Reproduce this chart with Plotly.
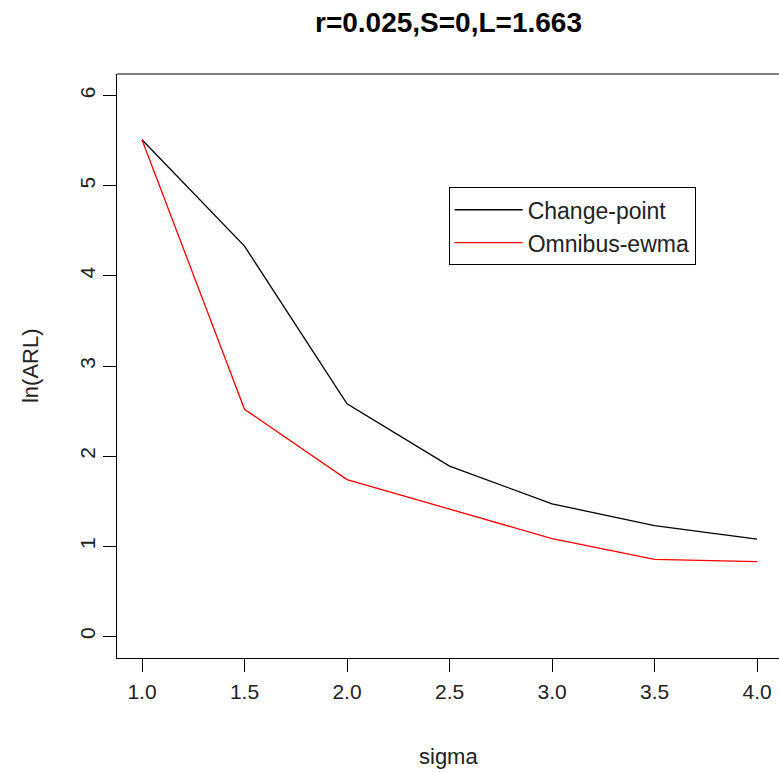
import plotly.graph_objects as go

sigma = [1.0, 1.5, 2.0, 2.5, 3.0, 3.5, 4.0]
change_point = [5.51, 4.33, 2.58, 1.89, 1.47, 1.23, 1.08]
omnibus_ewma = [5.51, 2.52, 1.74, 1.41, 1.085, 0.855, 0.83]

x_ticks = [1.0, 1.5, 2.0, 2.5, 3.0, 3.5, 4.0]
x_tick_labels = ["1.0", "1.5", "2.0", "2.5", "3.0", "3.5", "4.0"]
y_ticks = [0, 1, 2, 3, 4, 5, 6]
y_tick_labels = ["0", "1", "2", "3", "4", "5", "6"]

FONT = "Arial, Liberation Sans, sans-serif"

fig = go.Figure()
fig.add_trace(go.Scatter(x=sigma, y=change_point, mode="lines", name="Change-point",
                         line=dict(color="black", width=1.3)))
fig.add_trace(go.Scatter(x=sigma, y=omnibus_ewma, mode="lines", name="Omnibus-ewma",
                         line=dict(color="red", width=1.3)))

fig.update_layout(
    width=779, height=773,
    margin=dict(l=117, r=0, t=74, b=115),
    paper_bgcolor="white", plot_bgcolor="white",
    font=dict(family=FONT, size=22, color="black"),
    showlegend=True,
    legend=dict(x=0.501, y=0.806, xanchor="left", yanchor="top",
                bordercolor="black", borderwidth=1, bgcolor="white",
                itemwidth=68,
                font=dict(family=FONT, size=23, color="#222")),
    xaxis=dict(range=[0.878, 4.107], tickvals=x_ticks, ticktext=x_tick_labels,
               showgrid=False, zeroline=False, showline=True, linecolor="black", linewidth=1,
               ticks="outside", ticklen=13, tickcolor="black", tickwidth=1,
               ticklabelstandoff=2,
               tickfont=dict(family=FONT, size=21, color="#222")),
    yaxis=dict(range=[-0.24, 6.24], tickvals=y_ticks, ticktext=y_tick_labels,
               showgrid=False, zeroline=False, showline=True, linecolor="black", linewidth=1,
               ticks="outside", ticklen=13, tickcolor="black", tickwidth=1,
               tickangle=-90,
               tickfont=dict(family=FONT, size=21, color="#222")),
    shapes=[dict(type="line", xref="paper", yref="paper", x0=0, x1=1, y0=1, y1=1,
                 line=dict(color="black", width=1))],
    annotations=[
        dict(text="<b>r=0.025,S=0,L=1.663</b>", xref="paper", yref="paper", x=0.5015, y=1.089,
             xanchor="center", yanchor="middle", showarrow=False,
             font=dict(family=FONT, size=28, color="black")),
        dict(text="sigma", xref="paper", yref="paper", x=0.5015, y=-0.1695,
             xanchor="center", yanchor="middle", showarrow=False,
             font=dict(family=FONT, size=22, color="#222")),
        dict(text="ln(ARL)", xref="paper", yref="paper", x=-0.1314, y=0.5,
             xanchor="center", yanchor="middle", showarrow=False, textangle=-90,
             font=dict(family=FONT, size=22, color="#222")),
    ],
)

fig.write_html(
    "out.html",
    config={"displayModeBar": False},
    post_script="document.body.style.margin='0';document.body.style.overflow='hidden';",
)
